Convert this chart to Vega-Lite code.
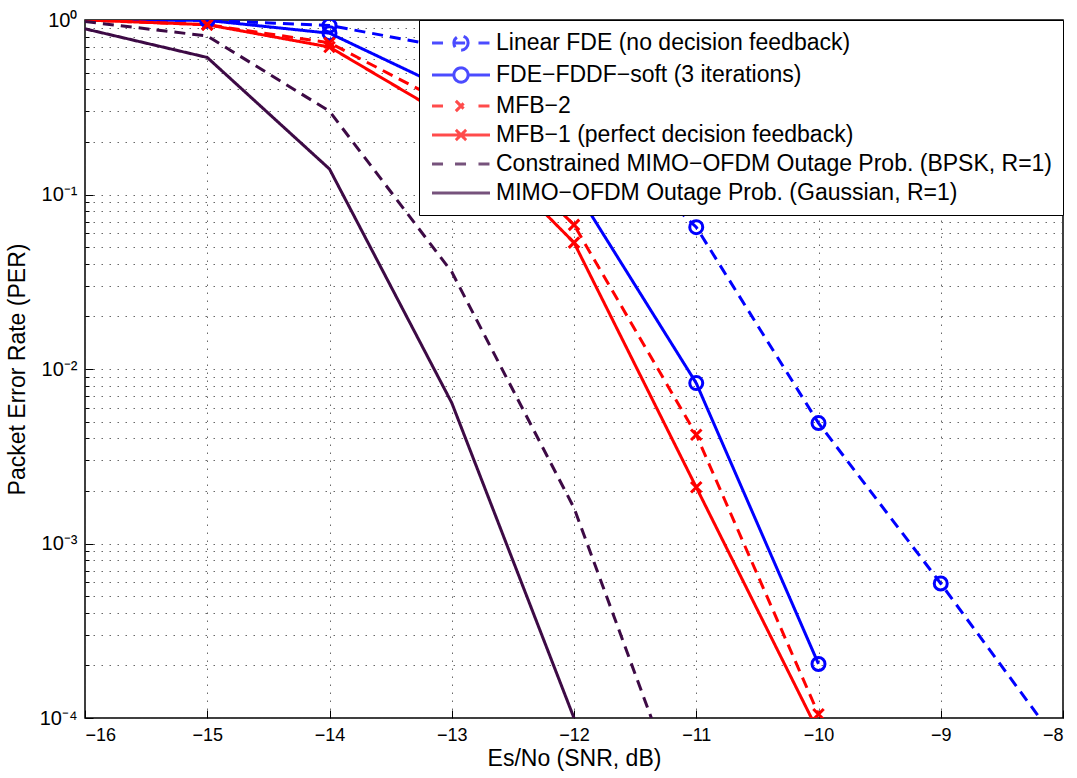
{
  "$schema": "https://vega.github.io/schema/vega-lite/v6.json",
  "width": 978,
  "height": 698,
  "autosize": "none",
  "padding": {"left": 85, "top": 20, "right": 14, "bottom": 60},
  "background": "white",
  "config": {
    "view": {"stroke": "black", "strokeWidth": 1.5},
    "font": "Liberation Sans",
    "axis": {
      "labelFont": "Liberation Sans",
      "titleFont": "Liberation Sans",
      "labelColor": "black",
      "titleColor": "black",
      "titleFontWeight": "normal",
      "domain": false,
      "tickColor": "black",
      "gridColor": "#444444",
      "gridDash": [1.5, 6.5],
      "gridWidth": 1,
      "gridOpacity": 0.8
    },
    "legend": {"labelFont": "Liberation Sans"}
  },
  "data": {
    "values": [
      {"s": "Linear FDE (no decision feedback)", "x": -16, "y": 1.0},
      {"s": "Linear FDE (no decision feedback)", "x": -15, "y": 0.995},
      {"s": "Linear FDE (no decision feedback)", "x": -14, "y": 0.93},
      {"s": "Linear FDE (no decision feedback)", "x": -13, "y": 0.69},
      {"s": "Linear FDE (no decision feedback)", "x": -12, "y": 0.3},
      {"s": "Linear FDE (no decision feedback)", "x": -11, "y": 0.065},
      {"s": "Linear FDE (no decision feedback)", "x": -10, "y": 0.0049},
      {"s": "Linear FDE (no decision feedback)", "x": -9, "y": 0.00059},
      {"s": "Linear FDE (no decision feedback)", "x": -8, "y": 0.000066},
      {"s": "FDE−FDDF−soft (3 iterations)", "x": -16, "y": 1.0},
      {"s": "FDE−FDDF−soft (3 iterations)", "x": -15, "y": 0.995},
      {"s": "FDE−FDDF−soft (3 iterations)", "x": -14, "y": 0.84},
      {"s": "FDE−FDDF−soft (3 iterations)", "x": -13, "y": 0.39},
      {"s": "FDE−FDDF−soft (3 iterations)", "x": -12, "y": 0.11},
      {"s": "FDE−FDDF−soft (3 iterations)", "x": -11, "y": 0.0083},
      {"s": "FDE−FDDF−soft (3 iterations)", "x": -10, "y": 0.000204},
      {"s": "MFB−2", "x": -16, "y": 1.0},
      {"s": "MFB−2", "x": -15, "y": 0.94},
      {"s": "MFB−2", "x": -14, "y": 0.74},
      {"s": "MFB−2", "x": -13, "y": 0.32},
      {"s": "MFB−2", "x": -12, "y": 0.067},
      {"s": "MFB−2", "x": -11, "y": 0.0042},
      {"s": "MFB−2", "x": -10, "y": 0.000105},
      {"s": "MFB−1 (perfect decision feedback)", "x": -16, "y": 1.0},
      {"s": "MFB−1 (perfect decision feedback)", "x": -15, "y": 0.94},
      {"s": "MFB−1 (perfect decision feedback)", "x": -14, "y": 0.70},
      {"s": "MFB−1 (perfect decision feedback)", "x": -13, "y": 0.27},
      {"s": "MFB−1 (perfect decision feedback)", "x": -12, "y": 0.053},
      {"s": "MFB−1 (perfect decision feedback)", "x": -11, "y": 0.0021},
      {"s": "MFB−1 (perfect decision feedback)", "x": -10, "y": 0.000083},
      {"s": "Constrained MIMO−OFDM Outage Prob. (BPSK, R=1)", "x": -16, "y": 0.98},
      {"s": "Constrained MIMO−OFDM Outage Prob. (BPSK, R=1)", "x": -15, "y": 0.81},
      {"s": "Constrained MIMO−OFDM Outage Prob. (BPSK, R=1)", "x": -14, "y": 0.30},
      {"s": "Constrained MIMO−OFDM Outage Prob. (BPSK, R=1)", "x": -13, "y": 0.036},
      {"s": "Constrained MIMO−OFDM Outage Prob. (BPSK, R=1)", "x": -12, "y": 0.0016},
      {"s": "Constrained MIMO−OFDM Outage Prob. (BPSK, R=1)", "x": -11, "y": 0.00002},
      {"s": "MIMO−OFDM Outage Prob. (Gaussian, R=1)", "x": -16, "y": 0.89},
      {"s": "MIMO−OFDM Outage Prob. (Gaussian, R=1)", "x": -15, "y": 0.61},
      {"s": "MIMO−OFDM Outage Prob. (Gaussian, R=1)", "x": -14, "y": 0.14},
      {"s": "MIMO−OFDM Outage Prob. (Gaussian, R=1)", "x": -13, "y": 0.0064},
      {"s": "MIMO−OFDM Outage Prob. (Gaussian, R=1)", "x": -12, "y": 0.0001}
    ]
  },
  "encoding": {
    "x": {
      "field": "x", "type": "quantitative",
      "scale": {"domain": [-16, -8], "nice": false, "zero": false},
      "axis": {
        "values": [-16, -15, -14, -13, -12, -11, -10, -9, -8],
        "title": "Es/No (SNR, dB)",
        "titleFontSize": 23,
        "titlePadding": 3,
        "labelFontSize": 18,
        "tickSize": -8,
        "labelPadding": 16,
        "grid": true
      }
    },
    "y": {
      "field": "y", "type": "quantitative",
      "scale": {"type": "log", "domain": [0.0001, 1], "nice": false},
      "axis": {
        "values": [0.0001, 0.0002, 0.0003, 0.0004, 0.0005, 0.0006, 0.0007, 0.0008, 0.0009,
                   0.001, 0.002, 0.003, 0.004, 0.005, 0.006, 0.007, 0.008, 0.009,
                   0.01, 0.02, 0.03, 0.04, 0.05, 0.06, 0.07, 0.08, 0.09,
                   0.1, 0.2, 0.3, 0.4, 0.5, 0.6, 0.7, 0.8, 0.9, 1],
        "labelExpr": "datum.value == 1 ? '10⁰' : datum.value == 0.1 ? '10⁻¹' : datum.value == 0.01 ? '10⁻²' : datum.value == 0.001 ? '10⁻³' : datum.value == 0.0001 ? '10⁻⁴' : ''",
        "title": "Packet Error Rate (PER)",
        "titleFontSize": 23,
        "titlePadding": 10,
        "labelFontSize": 20,
        "tickSize": {"condition": {"test": "datum.value == 1 || datum.value == 0.1 || datum.value == 0.01 || datum.value == 0.001 || datum.value == 0.0001", "value": -8}, "value": -4},
        "labelPadding": 16,
        "labelOverlap": false,
        "grid": true
      }
    }
  },
  "layer": [
    {
      "mark": {"type": "line", "strokeWidth": 3, "clip": true},
      "encoding": {
        "color": {
          "field": "s", "type": "nominal",
          "scale": {
            "domain": ["Linear FDE (no decision feedback)", "FDE−FDDF−soft (3 iterations)", "MFB−2", "MFB−1 (perfect decision feedback)", "Constrained MIMO−OFDM Outage Prob. (BPSK, R=1)", "MIMO−OFDM Outage Prob. (Gaussian, R=1)"],
            "range": ["#0000ff", "#0000ff", "#ff0000", "#ff0000", "#3d0a45", "#3d0a45"]
          },
          "legend": {
            "title": null,
            "orient": "top-right",
            "offset": 0,
            "fillColor": "white",
            "strokeColor": "black",
            "padding": 10,
            "labelFontSize": 23,
            "labelColor": "black",
            "symbolSize": 529,
            "symbolStrokeWidth": 3,
            "symbolOpacity": 1,
            "symbolOffset": 19,
            "labelOffset": 22,
            "rowPadding": 4,
            "labelLimit": 800
          }
        },
        "strokeDash": {
          "field": "s", "type": "nominal",
          "scale": {
            "domain": ["Linear FDE (no decision feedback)", "FDE−FDDF−soft (3 iterations)", "MFB−2", "MFB−1 (perfect decision feedback)", "Constrained MIMO−OFDM Outage Prob. (BPSK, R=1)", "MIMO−OFDM Outage Prob. (Gaussian, R=1)"],
            "range": [[11, 7], [1, 0], [11, 7], [1, 0], [11, 7], [1, 0]]
          },
          "legend": null
        }
      }
    },
    {
      "transform": [{"filter": "datum.x > 100"}],
      "mark": {"type": "point", "filled": false, "strokeWidth": 3},
      "encoding": {
        "color": {"field": "s", "type": "nominal"},
        "shape": {
          "field": "s", "type": "nominal",
          "scale": {
            "domain": ["Linear FDE (no decision feedback)", "FDE−FDDF−soft (3 iterations)", "MFB−2", "MFB−1 (perfect decision feedback)", "Constrained MIMO−OFDM Outage Prob. (BPSK, R=1)", "MIMO−OFDM Outage Prob. (Gaussian, R=1)"],
            "range": [
              "M-2.52,0H-1.48M-0.6,0H0.6M1.52,0H2.52M0.62,0A0.62,0.62 0 1,1 -0.62,0A0.62,0.62 0 1,1 0.62,0",
              "M-2.52,0H-0.62M0.62,0H2.52M0.62,0A0.62,0.62 0 1,1 -0.62,0A0.62,0.62 0 1,1 0.62,0",
              "M-2.52,0H-1.48M1.52,0H2.52M-0.45,-0.45L0.45,0.45M-0.45,0.45L0.45,-0.45",
              "M-2.52,0H2.52M-0.45,-0.45L0.45,0.45M-0.45,0.45L0.45,-0.45",
              "M-2.52,0H-1.48M-0.52,0H0.52M1.52,0H2.52",
              "M-2.52,0H2.52"
            ]
          },
          "legend": {"title": null}
        }
      }
    },
    {
      "transform": [{"filter": "datum.x > -16 && (datum.s == 'Linear FDE (no decision feedback)' || datum.s == 'FDE−FDDF−soft (3 iterations)')"}],
      "mark": {"type": "point", "shape": "circle", "filled": false, "strokeWidth": 3, "size": 169, "opacity": 1, "clip": true},
      "encoding": {"color": {"field": "s", "type": "nominal"}}
    },
    {
      "transform": [{"filter": "datum.x > -16 && (datum.s == 'MFB−2' || datum.s == 'MFB−1 (perfect decision feedback)')"}],
      "mark": {"type": "point", "shape": "M-1,-1L1,1M-1,1L1,-1", "filled": false, "strokeWidth": 3, "size": 110, "opacity": 1, "clip": true},
      "encoding": {"color": {"field": "s", "type": "nominal"}}
    }
  ]
}
